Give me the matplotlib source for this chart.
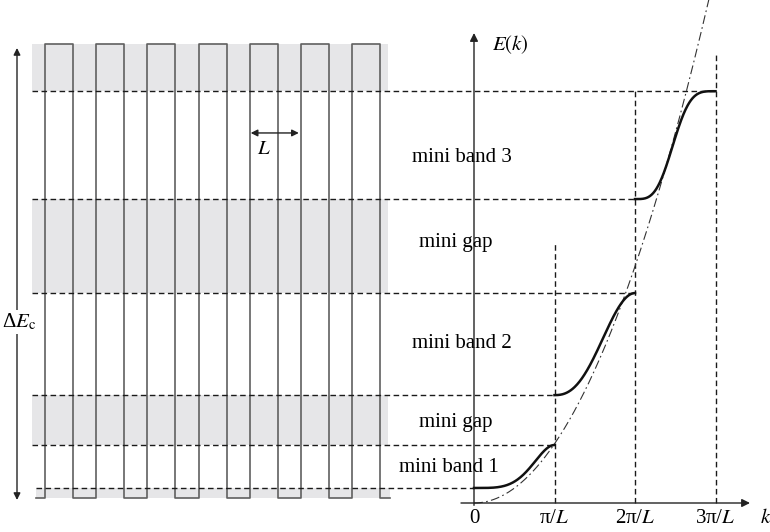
import numpy as np
import matplotlib
matplotlib.use("Agg")
import matplotlib.pyplot as plt
from matplotlib.patches import Rectangle

plt.rcParams['font.family'] = ['Liberation Serif', 'DejaVu Serif']
plt.rcParams['mathtext.fontset'] = 'stix'

# energy levels (arbitrary units, E = 0 on the k axis)
E_well = 0.086      # bottom of the wells
E_barrier = 7.914   # top of the barriers
band_low = [0.259, 1.86, 5.24]
band_high = [1.00, 3.62, 7.10]
band_shape = [2.0, 1.23, 0.92]   # where in the zone each band rises
band_sharp = [1, 1, 2]           # how steep the rise is
band_names = ["mini band 1", "mini band 2", "mini band 3"]
gap_names = ["mini gap", "mini gap"]
free_coef = 1.02    # free electron parabola E = c k^2 (k in pi/L)

# superlattice (positions in units of the period L)
n_barriers = 7
barrier_w = 0.549
sl_left, sl_right = -0.176, 6.745

k_ticks = [0, 1, 2, 3]
k_tick_labels = ["0", "π/$L$", "2π/$L$", "3π/$L$"]
vline_top = [None, 4.48, 7.10, 7.74]

# layout: k units -> figure, the superlattice drawn left of the E axis
px_k = 80.5
px_E = 58.0
z0 = -429.0 / px_k          # position of the first barrier edge in k units
Lk = 51.17 / px_k           # one period in k units


def zx(z):
    return z0 + z * Lk


fig = plt.figure(figsize=(7.7, 5.32), dpi=100)
ax = fig.add_axes([0, 0, 1, 1])
ax.set_xlim(-474 / px_k, 296 / px_k)
ax.set_ylim(-29 / px_E, 503 / px_E)
ax.axis('off')

gray = '#e6e6e8'
# forbidden regions on the left
gaps = [(band_high[2], E_barrier), (band_high[1], band_low[2]), (band_high[0], band_low[1])]
for lo, hi in gaps:
    ax.add_patch(Rectangle((zx(-0.255), lo), zx(6.7) - zx(-0.255), hi - lo,
                           facecolor=gray, edgecolor='none', zorder=0))
ax.add_patch(Rectangle((zx(sl_left), E_well), zx(sl_right) - zx(sl_left), band_low[0] - E_well,
                       facecolor=gray, edgecolor='none', zorder=0))

# square well potential
xs = [sl_left]
ys = [E_well]
for i in range(n_barriers):
    xs += [i, i, i + barrier_w, i + barrier_w]
    ys += [E_well, E_barrier, E_barrier, E_well]
xs.append(sl_right)
ys.append(E_well)
ax.plot([zx(v) for v in xs], ys, color='#606060', lw=1.2, zorder=2)

# dashed level lines
dash = dict(color='#1a1a1a', lw=1.0, ls=(0, (4, 2.5)), zorder=3)
ax.plot([zx(-0.255), 3], [band_high[2]] * 2, **dash)
ax.plot([zx(-0.255), 2], [band_low[2]] * 2, **dash)
ax.plot([zx(-0.255), 2], [band_high[1]] * 2, **dash)
ax.plot([zx(-0.255), 1], [band_low[1]] * 2, **dash)
ax.plot([zx(-0.255), 1], [band_high[0]] * 2, **dash)
ax.plot([zx(sl_left), 0], [band_low[0]] * 2, **dash)
for k, top in zip(k_ticks, vline_top):
    if top is not None:
        ax.plot([k, k], [0, top], **dash)

# free electron parabola
kk = np.linspace(0, 3, 300)
ax.plot(kk, free_coef * kk ** 2, color='#333333', lw=0.8, ls=(0, (8, 3, 1.5, 3)), zorder=3)

# mini bands
for n in range(3):
    t = np.linspace(0, 1, 200)
    s = t ** band_shape[n]
    for _ in range(band_sharp[n]):
        s = (1 - np.cos(np.pi * s)) / 2
    e = band_low[n] + (band_high[n] - band_low[n]) * s
    ax.plot(n + t, e, color='#111111', lw=1.8, zorder=4)

# axes arrows
arr = dict(arrowstyle='-|>', color='#222222', lw=1.0, mutation_scale=12, shrinkA=0, shrinkB=0)
ax.annotate('', xy=(0, (503 - 33) / px_E), xytext=(0, -0.04), arrowprops=arr)
ax.annotate('', xy=(276 / px_k, 0), xytext=(-13 / px_k, 0), arrowprops=arr)
ax.text(0.45, 7.9, r"$E(k)$", fontsize=15, ha='center', va='center')
ax.text(3.62, -0.26, r"$k$", fontsize=15, ha='center', va='center')
for k, lab in zip(k_ticks, k_tick_labels):
    ax.text(k, -0.26, lab, fontsize=15, ha='center', va='center')

# Delta E_c arrow
dbl = dict(arrowstyle='<|-|>', color='#222222', lw=1.0, mutation_scale=10, shrinkA=0, shrinkB=0)
xa = -457 / px_k
ax.annotate('', xy=(xa, 7.845), xytext=(xa, 0.052), arrowprops=dbl)
ax.text(xa + 0.02, 3.12, "Δ$E_{\\rm c}$", fontsize=15, ha='center', va='center',
        bbox=dict(facecolor='white', edgecolor='none', pad=1))

# period arrow
ax.annotate('', xy=(zx(4.02), 6.38), xytext=(zx(4.96), 6.38), arrowprops=dbl)
ax.text(zx(4.27), 6.09, r"$L$", fontsize=15, ha='center', va='center')

# labels
band_label_x = [449, 462, 462]
band_label_E = [467, 343, 158]
for name, lx, ly in zip(band_names, band_label_x, band_label_E):
    ax.text((lx - 474) / px_k, (503 - ly) / px_E, name, fontsize=15, ha='center', va='center')
gap_label_E = [423, 243]
for name, ly in zip(gap_names, gap_label_E):
    ax.text((456 - 474) / px_k, (503 - ly) / px_E, name, fontsize=15, ha='center', va='center')

fig.savefig('out.png', dpi=100)
